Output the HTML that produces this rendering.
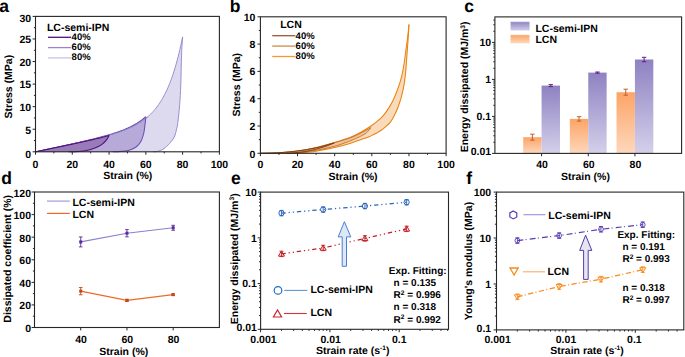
<!DOCTYPE html>
<html><head><meta charset="utf-8"><style>
html,body{margin:0;padding:0;background:#fff;width:685px;height:357px;overflow:hidden}
svg{display:block;font-family:"Liberation Sans", sans-serif;text-rendering:geometricPrecision;font-weight:bold}
</style></head><body>
<svg width="685" height="357" viewBox="0 0 685 357">
<rect width="685" height="357" fill="#fff"/>
<path d="M35.50,151.80 L36.42,151.61 L37.34,151.41 L38.26,151.22 L39.18,151.03 L40.10,150.84 L41.02,150.64 L41.94,150.45 L42.86,150.26 L43.78,150.06 L44.70,149.87 L45.61,149.67 L46.53,149.48 L47.45,149.29 L48.37,149.09 L49.29,148.90 L50.21,148.71 L51.13,148.51 L52.05,148.32 L52.97,148.12 L53.89,147.93 L54.81,147.73 L55.73,147.54 L56.65,147.34 L57.57,147.15 L58.49,146.95 L59.41,146.76 L60.33,146.56 L61.25,146.36 L62.17,146.17 L63.09,145.97 L64.00,145.77 L64.92,145.58 L65.84,145.38 L66.76,145.18 L67.68,144.98 L68.60,144.79 L69.52,144.59 L70.44,144.39 L71.36,144.19 L72.28,143.99 L73.20,143.79 L74.12,143.59 L75.04,143.39 L75.96,143.18 L76.88,142.98 L77.80,142.78 L78.72,142.58 L79.64,142.37 L80.56,142.17 L81.47,141.96 L82.39,141.75 L83.31,141.55 L84.23,141.34 L85.15,141.13 L86.07,140.92 L86.99,140.71 L87.91,140.50 L88.83,140.29 L89.75,140.07 L90.67,139.86 L91.59,139.64 L92.51,139.43 L93.43,139.21 L94.35,138.99 L95.27,138.76 L96.19,138.54 L97.11,138.32 L98.03,138.09 L98.95,137.86 L99.86,137.63 L100.78,137.40 L101.70,137.16 L102.62,136.93 L103.54,136.69 L104.46,136.44 L105.38,136.20 L106.30,135.95 L107.22,135.70 L108.14,135.45 L109.06,135.19 L109.98,134.93 L110.90,134.66 L111.82,134.39 L112.74,134.12 L113.66,133.85 L114.58,133.56 L115.50,133.28 L116.42,132.99 L117.34,132.69 L118.26,132.39 L119.17,132.08 L120.09,131.76 L121.01,131.44 L121.93,131.12 L122.85,130.78 L123.77,130.44 L124.69,130.09 L125.61,129.73 L126.53,129.36 L127.45,128.98 L128.37,128.59 L129.29,128.19 L130.21,127.78 L131.13,127.36 L132.05,126.93 L132.97,126.48 L133.89,126.02 L134.81,125.54 L135.73,125.05 L136.65,124.55 L137.56,124.02 L138.48,123.48 L139.40,122.92 L140.32,122.34 L141.24,121.74 L142.16,121.12 L143.08,120.48 L144.00,119.81 L144.92,119.11 L145.84,118.39 L146.76,117.64 L147.68,116.86 L148.60,116.04 L149.52,115.20 L150.44,114.32 L151.36,113.40 L152.28,112.44 L153.20,111.44 L154.12,110.40 L155.04,109.31 L155.95,108.18 L156.87,106.99 L157.79,105.75 L158.71,104.46 L159.63,103.10 L160.55,101.69 L161.47,100.20 L162.39,98.65 L163.31,97.03 L164.23,95.32 L165.15,93.54 L166.07,91.67 L166.99,89.71 L167.91,87.66 L168.83,85.51 L169.75,83.25 L170.67,80.88 L171.59,78.39 L172.51,75.78 L173.43,73.04 L174.34,70.16 L175.26,67.14 L176.18,63.97 L177.10,60.64 L178.02,57.14 L178.94,53.46 L179.86,49.59 L180.78,45.53 L181.70,41.25 L182.62,36.89 L182.62,36.89 C182.44,39.94 181.82,47.20 181.52,55.21 C181.21,63.23 181.09,76.80 180.78,85.00 C180.47,93.20 180.17,98.17 179.68,104.41 C179.19,110.65 178.36,118.33 177.84,122.46 C177.32,126.60 177.07,126.98 176.55,129.23 C176.03,131.49 175.63,133.91 174.71,136.00 C173.79,138.09 172.63,139.83 171.03,141.78 C169.44,143.73 166.84,146.29 165.15,147.69 C163.46,149.10 162.30,149.58 160.92,150.22 C159.54,150.86 158.16,151.27 156.87,151.53 C155.59,151.79 153.81,151.75 153.20,151.80 Z" fill="#dddaf0" stroke="none"/>
<path d="M35.50,151.80 L36.42,151.61 L37.34,151.41 L38.26,151.22 L39.18,151.03 L40.10,150.84 L41.02,150.64 L41.94,150.45 L42.86,150.26 L43.78,150.06 L44.70,149.87 L45.61,149.67 L46.53,149.48 L47.45,149.29 L48.37,149.09 L49.29,148.90 L50.21,148.71 L51.13,148.51 L52.05,148.32 L52.97,148.12 L53.89,147.93 L54.81,147.73 L55.73,147.54 L56.65,147.34 L57.57,147.15 L58.49,146.95 L59.41,146.76 L60.33,146.56 L61.25,146.36 L62.17,146.17 L63.09,145.97 L64.00,145.77 L64.92,145.58 L65.84,145.38 L66.76,145.18 L67.68,144.98 L68.60,144.79 L69.52,144.59 L70.44,144.39 L71.36,144.19 L72.28,143.99 L73.20,143.79 L74.12,143.59 L75.04,143.39 L75.96,143.18 L76.88,142.98 L77.80,142.78 L78.72,142.58 L79.64,142.37 L80.56,142.17 L81.47,141.96 L82.39,141.75 L83.31,141.55 L84.23,141.34 L85.15,141.13 L86.07,140.92 L86.99,140.71 L87.91,140.50 L88.83,140.29 L89.75,140.07 L90.67,139.86 L91.59,139.64 L92.51,139.43 L93.43,139.21 L94.35,138.99 L95.27,138.76 L96.19,138.54 L97.11,138.32 L98.03,138.09 L98.95,137.86 L99.86,137.63 L100.78,137.40 L101.70,137.16 L102.62,136.93 L103.54,136.69 L104.46,136.44 L105.38,136.20 L106.30,135.95 L107.22,135.70 L108.14,135.45 L109.06,135.19 L109.98,134.93 L110.90,134.66 L111.82,134.39 L112.74,134.12 L113.66,133.85 L114.58,133.56 L115.50,133.28 L116.42,132.99 L117.34,132.69 L118.26,132.39 L119.17,132.08 L120.09,131.76 L121.01,131.44 L121.93,131.12 L122.85,130.78 L123.77,130.44 L124.69,130.09 L125.61,129.73 L126.53,129.36 L127.45,128.98 L128.37,128.59 L129.29,128.19 L130.21,127.78 L131.13,127.36 L132.05,126.93 L132.97,126.48 L133.89,126.02 L134.81,125.54 L135.73,125.05 L136.65,124.55 L137.56,124.02 L138.48,123.48 L139.40,122.92 L140.32,122.34 L141.24,121.74 L142.16,121.12 L143.08,120.48 L144.00,119.81 L144.92,119.11 L145.84,118.39 L146.76,117.64 L147.68,116.86 L148.60,116.04 L149.52,115.20 L150.44,114.32 L151.36,113.40 L152.28,112.44 L153.20,111.44 L154.12,110.40 L155.04,109.31 L155.95,108.18 L156.87,106.99 L157.79,105.75 L158.71,104.46 L159.63,103.10 L160.55,101.69 L161.47,100.20 L162.39,98.65 L163.31,97.03 L164.23,95.32 L165.15,93.54 L166.07,91.67 L166.99,89.71 L167.91,87.66 L168.83,85.51 L169.75,83.25 L170.67,80.88 L171.59,78.39 L172.51,75.78 L173.43,73.04 L174.34,70.16 L175.26,67.14 L176.18,63.97 L177.10,60.64 L178.02,57.14 L178.94,53.46 L179.86,49.59 L180.78,45.53 L181.70,41.25 L182.62,36.89" fill="none" stroke="#8d84cc" stroke-width="0.9" stroke-linejoin="round"/>
<path d="M182.62,36.89 C182.44,39.94 181.82,47.20 181.52,55.21 C181.21,63.23 181.09,76.80 180.78,85.00 C180.47,93.20 180.17,98.17 179.68,104.41 C179.19,110.65 178.36,118.33 177.84,122.46 C177.32,126.60 177.07,126.98 176.55,129.23 C176.03,131.49 175.63,133.91 174.71,136.00 C173.79,138.09 172.63,139.83 171.03,141.78 C169.44,143.73 166.84,146.29 165.15,147.69 C163.46,149.10 162.30,149.58 160.92,150.22 C159.54,150.86 158.16,151.27 156.87,151.53 C155.59,151.79 153.81,151.75 153.20,151.80" fill="none" stroke="#8d84cc" stroke-width="0.9" stroke-linejoin="round"/>
<path d="M35.50,151.80 L36.42,151.60 L37.34,151.41 L38.26,151.21 L39.18,151.01 L40.10,150.82 L41.02,150.62 L41.94,150.42 L42.86,150.22 L43.78,150.03 L44.70,149.83 L45.61,149.63 L46.53,149.43 L47.45,149.24 L48.37,149.04 L49.29,148.84 L50.21,148.64 L51.13,148.45 L52.05,148.25 L52.97,148.05 L53.89,147.85 L54.81,147.65 L55.73,147.45 L56.65,147.25 L57.57,147.05 L58.49,146.85 L59.41,146.66 L60.33,146.46 L61.25,146.26 L62.17,146.05 L63.09,145.85 L64.00,145.65 L64.92,145.45 L65.84,145.25 L66.76,145.05 L67.68,144.85 L68.60,144.64 L69.52,144.44 L70.44,144.24 L71.36,144.03 L72.28,143.83 L73.20,143.63 L74.12,143.42 L75.04,143.22 L75.96,143.01 L76.88,142.80 L77.80,142.60 L78.72,142.39 L79.64,142.18 L80.56,141.97 L81.47,141.76 L82.39,141.55 L83.31,141.34 L84.23,141.12 L85.15,140.91 L86.07,140.70 L86.99,140.48 L87.91,140.26 L88.83,140.04 L89.75,139.83 L90.67,139.60 L91.59,139.38 L92.51,139.16 L93.43,138.93 L94.35,138.71 L95.27,138.48 L96.19,138.25 L97.11,138.02 L98.03,137.78 L98.95,137.55 L99.86,137.31 L100.78,137.07 L101.70,136.82 L102.62,136.58 L103.54,136.33 L104.46,136.08 L105.38,135.82 L106.30,135.56 L107.22,135.30 L108.14,135.04 L109.06,134.77 L109.98,134.50 L110.90,134.22 L111.82,133.94 L112.74,133.65 L113.66,133.36 L114.58,133.06 L115.50,132.76 L116.42,132.46 L117.34,132.14 L118.26,131.82 L119.17,131.50 L120.09,131.16 L121.01,130.82 L121.93,130.47 L122.85,130.12 L123.77,129.75 L124.69,129.37 L125.61,128.99 L126.53,128.60 L127.45,128.19 L128.37,127.77 L129.29,127.35 L130.21,126.90 L131.13,126.45 L132.05,125.98 L132.97,125.50 L133.89,125.00 L134.81,124.49 L135.73,123.96 L136.65,123.41 L137.56,122.85 L138.48,122.26 L139.40,121.65 L140.32,121.02 L141.24,120.37 L142.16,119.70 L143.08,119.00 L144.00,118.27 L144.92,117.51 L145.84,116.73 L145.84,116.73 C145.72,117.91 145.47,120.98 145.10,123.82 C144.74,126.65 144.34,130.81 143.63,133.75 C142.93,136.68 142.19,139.16 140.87,141.42 C139.56,143.68 137.81,145.78 135.73,147.29 C133.64,148.79 131.28,149.72 128.37,150.45 C125.46,151.18 120.86,151.44 118.26,151.66 C115.65,151.89 113.66,151.78 112.74,151.80 Z" fill="#b8aad8" stroke="none"/>
<path d="M35.50,151.80 L36.42,151.60 L37.34,151.41 L38.26,151.21 L39.18,151.01 L40.10,150.82 L41.02,150.62 L41.94,150.42 L42.86,150.22 L43.78,150.03 L44.70,149.83 L45.61,149.63 L46.53,149.43 L47.45,149.24 L48.37,149.04 L49.29,148.84 L50.21,148.64 L51.13,148.45 L52.05,148.25 L52.97,148.05 L53.89,147.85 L54.81,147.65 L55.73,147.45 L56.65,147.25 L57.57,147.05 L58.49,146.85 L59.41,146.66 L60.33,146.46 L61.25,146.26 L62.17,146.05 L63.09,145.85 L64.00,145.65 L64.92,145.45 L65.84,145.25 L66.76,145.05 L67.68,144.85 L68.60,144.64 L69.52,144.44 L70.44,144.24 L71.36,144.03 L72.28,143.83 L73.20,143.63 L74.12,143.42 L75.04,143.22 L75.96,143.01 L76.88,142.80 L77.80,142.60 L78.72,142.39 L79.64,142.18 L80.56,141.97 L81.47,141.76 L82.39,141.55 L83.31,141.34 L84.23,141.12 L85.15,140.91 L86.07,140.70 L86.99,140.48 L87.91,140.26 L88.83,140.04 L89.75,139.83 L90.67,139.60 L91.59,139.38 L92.51,139.16 L93.43,138.93 L94.35,138.71 L95.27,138.48 L96.19,138.25 L97.11,138.02 L98.03,137.78 L98.95,137.55 L99.86,137.31 L100.78,137.07 L101.70,136.82 L102.62,136.58 L103.54,136.33 L104.46,136.08 L105.38,135.82 L106.30,135.56 L107.22,135.30 L108.14,135.04 L109.06,134.77 L109.98,134.50 L110.90,134.22 L111.82,133.94 L112.74,133.65 L113.66,133.36 L114.58,133.06 L115.50,132.76 L116.42,132.46 L117.34,132.14 L118.26,131.82 L119.17,131.50 L120.09,131.16 L121.01,130.82 L121.93,130.47 L122.85,130.12 L123.77,129.75 L124.69,129.37 L125.61,128.99 L126.53,128.60 L127.45,128.19 L128.37,127.77 L129.29,127.35 L130.21,126.90 L131.13,126.45 L132.05,125.98 L132.97,125.50 L133.89,125.00 L134.81,124.49 L135.73,123.96 L136.65,123.41 L137.56,122.85 L138.48,122.26 L139.40,121.65 L140.32,121.02 L141.24,120.37 L142.16,119.70 L143.08,119.00 L144.00,118.27 L144.92,117.51 L145.84,116.73" fill="none" stroke="#6c4cae" stroke-width="1.05" stroke-linejoin="round"/>
<path d="M145.84,116.73 C145.72,117.91 145.47,120.98 145.10,123.82 C144.74,126.65 144.34,130.81 143.63,133.75 C142.93,136.68 142.19,139.16 140.87,141.42 C139.56,143.68 137.81,145.78 135.73,147.29 C133.64,148.79 131.28,149.72 128.37,150.45 C125.46,151.18 120.86,151.44 118.26,151.66 C115.65,151.89 113.66,151.78 112.74,151.80" fill="none" stroke="#6c4cae" stroke-width="1.05" stroke-linejoin="round"/>
<path d="M72.28,143.99 L73.20,143.79 L74.12,143.59 L75.04,143.39 L75.96,143.18 L76.88,142.98 L77.80,142.78 L78.72,142.58 L79.64,142.37 L80.56,142.17 L81.47,141.96 L82.39,141.75 L83.31,141.55 L84.23,141.34 L85.15,141.13 L86.07,140.92 L86.99,140.71 L87.91,140.50 L88.83,140.29 L89.75,140.07 L90.67,139.86 L91.59,139.64 L92.51,139.43 L93.43,139.21 L94.35,138.99 L95.27,138.76 L96.19,138.54 L97.11,138.32 L98.03,138.09 L98.95,137.86 L99.86,137.63 L100.78,137.40 L101.70,137.16 L102.62,136.93 L103.54,136.69 L104.46,136.44 L105.38,136.20 L106.30,135.95 L107.22,135.70 L108.14,135.45 L109.06,135.19 L109.98,134.93 L110.90,134.66 L111.82,134.39 L112.74,134.12 L113.66,133.85 L114.58,133.56 L115.50,133.28 L116.42,132.99 L117.34,132.69 L118.26,132.39 L119.17,132.08 L120.09,131.76 L121.01,131.44 L121.93,131.12 L122.85,130.78 L123.77,130.44 L124.69,130.09 L125.61,129.73 L126.53,129.36 L127.45,128.98 L128.37,128.59 L129.29,128.19 L130.21,127.78 L131.13,127.36 L132.05,126.93 L132.97,126.48 L133.89,126.02 L134.81,125.54 L135.73,125.05 L136.65,124.55 L137.56,124.02 L138.48,123.48 L139.40,122.92 L140.32,122.34 L141.24,121.74 L142.16,121.12 L143.08,120.48 L144.00,119.81 L144.92,119.11 L145.84,118.39 L146.76,117.64 L147.68,116.86" fill="none" stroke="#8a80c8" stroke-width="0.8"/>
<path d="M35.50,151.80 L36.42,151.61 L37.34,151.42 L38.26,151.23 L39.18,151.04 L40.10,150.85 L41.02,150.67 L41.94,150.48 L42.86,150.29 L43.78,150.10 L44.70,149.91 L45.61,149.72 L46.53,149.53 L47.45,149.34 L48.37,149.15 L49.29,148.96 L50.21,148.77 L51.13,148.58 L52.05,148.39 L52.97,148.20 L53.89,148.00 L54.81,147.81 L55.73,147.62 L56.65,147.43 L57.57,147.24 L58.49,147.05 L59.41,146.86 L60.33,146.66 L61.25,146.47 L62.17,146.28 L63.09,146.09 L64.00,145.89 L64.92,145.70 L65.84,145.51 L66.76,145.31 L67.68,145.12 L68.60,144.93 L69.52,144.73 L70.44,144.54 L71.36,144.34 L72.28,144.14 L73.20,143.95 L74.12,143.75 L75.04,143.55 L75.96,143.36 L76.88,143.16 L77.80,142.96 L78.72,142.76 L79.64,142.56 L80.56,142.36 L81.47,142.16 L82.39,141.96 L83.31,141.75 L84.23,141.55 L85.15,141.34 L86.07,141.14 L86.99,140.93 L87.91,140.73 L88.83,140.52 L89.75,140.31 L90.67,140.10 L91.59,139.89 L92.51,139.67 L93.43,139.46 L94.35,139.24 L95.27,139.03 L96.19,138.81 L97.11,138.59 L98.03,138.36 L98.95,138.14 L99.86,137.91 L100.78,137.69 L101.70,137.46 L102.62,137.22 L103.54,136.99 L104.46,136.75 L105.38,136.51 L106.30,136.27 L107.22,136.02 L108.14,135.77 L109.06,135.52 L109.06,135.52 C108.60,136.28 107.53,138.56 106.30,140.07 C105.08,141.57 103.70,143.22 101.70,144.58 C99.71,145.93 97.11,147.17 94.35,148.19 C91.59,149.20 88.52,150.08 85.15,150.67 C81.78,151.26 76.88,151.52 74.12,151.71 C71.36,151.90 69.52,151.78 68.60,151.80 Z" fill="#9a7bb9" stroke="none"/>
<path d="M35.50,151.80 L36.42,151.61 L37.34,151.42 L38.26,151.23 L39.18,151.04 L40.10,150.85 L41.02,150.67 L41.94,150.48 L42.86,150.29 L43.78,150.10 L44.70,149.91 L45.61,149.72 L46.53,149.53 L47.45,149.34 L48.37,149.15 L49.29,148.96 L50.21,148.77 L51.13,148.58 L52.05,148.39 L52.97,148.20 L53.89,148.00 L54.81,147.81 L55.73,147.62 L56.65,147.43 L57.57,147.24 L58.49,147.05 L59.41,146.86 L60.33,146.66 L61.25,146.47 L62.17,146.28 L63.09,146.09 L64.00,145.89 L64.92,145.70 L65.84,145.51 L66.76,145.31 L67.68,145.12 L68.60,144.93 L69.52,144.73 L70.44,144.54 L71.36,144.34 L72.28,144.14 L73.20,143.95 L74.12,143.75 L75.04,143.55 L75.96,143.36 L76.88,143.16 L77.80,142.96 L78.72,142.76 L79.64,142.56 L80.56,142.36 L81.47,142.16 L82.39,141.96 L83.31,141.75 L84.23,141.55 L85.15,141.34 L86.07,141.14 L86.99,140.93 L87.91,140.73 L88.83,140.52 L89.75,140.31 L90.67,140.10 L91.59,139.89 L92.51,139.67 L93.43,139.46 L94.35,139.24 L95.27,139.03 L96.19,138.81 L97.11,138.59 L98.03,138.36 L98.95,138.14 L99.86,137.91 L100.78,137.69 L101.70,137.46 L102.62,137.22 L103.54,136.99 L104.46,136.75 L105.38,136.51 L106.30,136.27 L107.22,136.02 L108.14,135.77 L109.06,135.52" fill="none" stroke="#520f80" stroke-width="1.1" stroke-linejoin="round"/>
<path d="M109.06,135.52 C108.60,136.28 107.53,138.56 106.30,140.07 C105.08,141.57 103.70,143.22 101.70,144.58 C99.71,145.93 97.11,147.17 94.35,148.19 C91.59,149.20 88.52,150.08 85.15,150.67 C81.78,151.26 76.88,151.52 74.12,151.71 C71.36,151.90 69.52,151.78 68.60,151.80" fill="none" stroke="#520f80" stroke-width="1.1" stroke-linejoin="round"/>
<rect x="35.50" y="16.40" width="183.90" height="135.40" fill="none" stroke="#262626" stroke-width="1.1"/>
<line x1="35.50" y1="151.80" x2="35.50" y2="154.70" stroke="#262626" stroke-width="1" />
<line x1="72.28" y1="151.80" x2="72.28" y2="154.70" stroke="#262626" stroke-width="1" />
<line x1="109.06" y1="151.80" x2="109.06" y2="154.70" stroke="#262626" stroke-width="1" />
<line x1="145.84" y1="151.80" x2="145.84" y2="154.70" stroke="#262626" stroke-width="1" />
<line x1="182.62" y1="151.80" x2="182.62" y2="154.70" stroke="#262626" stroke-width="1" />
<line x1="219.40" y1="151.80" x2="219.40" y2="154.70" stroke="#262626" stroke-width="1" />
<line x1="53.89" y1="151.80" x2="53.89" y2="153.40" stroke="#262626" stroke-width="1" />
<line x1="90.67" y1="151.80" x2="90.67" y2="153.40" stroke="#262626" stroke-width="1" />
<line x1="127.45" y1="151.80" x2="127.45" y2="153.40" stroke="#262626" stroke-width="1" />
<line x1="164.23" y1="151.80" x2="164.23" y2="153.40" stroke="#262626" stroke-width="1" />
<line x1="201.01" y1="151.80" x2="201.01" y2="153.40" stroke="#262626" stroke-width="1" />
<text x="35.50" y="167.60" font-size="10.5" text-anchor="middle" fill="#000" >0</text>
<text x="72.28" y="167.60" font-size="10.5" text-anchor="middle" fill="#000" >20</text>
<text x="109.06" y="167.60" font-size="10.5" text-anchor="middle" fill="#000" >40</text>
<text x="145.84" y="167.60" font-size="10.5" text-anchor="middle" fill="#000" >60</text>
<text x="182.62" y="167.60" font-size="10.5" text-anchor="middle" fill="#000" >80</text>
<text x="219.40" y="167.60" font-size="10.5" text-anchor="middle" fill="#000" >100</text>
<line x1="32.60" y1="151.80" x2="35.50" y2="151.80" stroke="#262626" stroke-width="1" />
<line x1="32.60" y1="129.23" x2="35.50" y2="129.23" stroke="#262626" stroke-width="1" />
<line x1="32.60" y1="106.67" x2="35.50" y2="106.67" stroke="#262626" stroke-width="1" />
<line x1="32.60" y1="84.10" x2="35.50" y2="84.10" stroke="#262626" stroke-width="1" />
<line x1="32.60" y1="61.53" x2="35.50" y2="61.53" stroke="#262626" stroke-width="1" />
<line x1="32.60" y1="38.97" x2="35.50" y2="38.97" stroke="#262626" stroke-width="1" />
<line x1="32.60" y1="16.40" x2="35.50" y2="16.40" stroke="#262626" stroke-width="1" />
<line x1="33.90" y1="140.52" x2="35.50" y2="140.52" stroke="#262626" stroke-width="1" />
<line x1="33.90" y1="117.95" x2="35.50" y2="117.95" stroke="#262626" stroke-width="1" />
<line x1="33.90" y1="95.38" x2="35.50" y2="95.38" stroke="#262626" stroke-width="1" />
<line x1="33.90" y1="72.82" x2="35.50" y2="72.82" stroke="#262626" stroke-width="1" />
<line x1="33.90" y1="50.25" x2="35.50" y2="50.25" stroke="#262626" stroke-width="1" />
<line x1="33.90" y1="27.68" x2="35.50" y2="27.68" stroke="#262626" stroke-width="1" />
<text x="31.20" y="158.00" font-size="10.5" text-anchor="end" fill="#000" >0</text>
<text x="31.20" y="133.53" font-size="10.5" text-anchor="end" fill="#000" >5</text>
<text x="31.20" y="110.97" font-size="10.5" text-anchor="end" fill="#000" >10</text>
<text x="31.20" y="88.40" font-size="10.5" text-anchor="end" fill="#000" >15</text>
<text x="31.20" y="65.83" font-size="10.5" text-anchor="end" fill="#000" >20</text>
<text x="31.20" y="43.27" font-size="10.5" text-anchor="end" fill="#000" >25</text>
<text x="31.20" y="21.70" font-size="10.5" text-anchor="end" fill="#000" >30</text>
<text x="-0.80" y="11.80" font-size="17.5" text-anchor="start" fill="#000" >a</text>
<text transform="translate(11.80,86.60) rotate(-90)" font-size="10.5" text-anchor="middle">Stress (MPa)</text>
<text x="127.80" y="179.40" font-size="10.5" text-anchor="middle" fill="#000" >Strain (%)</text>
<text x="46.90" y="30.50" font-size="10.5" text-anchor="start" fill="#000" >LC-semi-IPN</text>
<line x1="48.00" y1="37.30" x2="71.00" y2="37.30" stroke="#520f80" stroke-width="1.3" />
<text x="71.60" y="39.70" font-size="9.5" text-anchor="start" fill="#000" >40%</text>
<line x1="48.00" y1="47.60" x2="71.00" y2="47.60" stroke="#9c84cc" stroke-width="1.3" />
<text x="71.60" y="50.00" font-size="9.5" text-anchor="start" fill="#000" >60%</text>
<line x1="48.00" y1="57.90" x2="71.00" y2="57.90" stroke="#c9c3e6" stroke-width="1.3" />
<text x="71.60" y="60.30" font-size="9.5" text-anchor="start" fill="#000" >80%</text>
<path d="M260.40,153.30 C263.50,153.21 272.78,153.14 278.97,152.75 C285.16,152.37 291.35,151.84 297.54,150.98 C303.73,150.12 309.92,149.00 316.11,147.57 C322.30,146.13 329.05,144.06 334.68,142.38 C340.31,140.70 345.70,139.06 349.91,137.47 C354.12,135.87 356.44,134.74 359.94,132.83 C363.43,130.91 368.08,127.87 370.89,126.00 C373.71,124.13 374.73,123.41 376.83,121.63 C378.94,119.86 381.41,117.81 383.52,115.35 C385.62,112.90 387.73,109.71 389.46,106.89 C391.19,104.07 392.46,101.61 393.92,98.43 C395.37,95.24 396.89,91.51 398.19,87.78 C399.49,84.05 400.73,80.14 401.72,76.04 C402.71,71.95 403.42,67.62 404.13,63.21 C404.84,58.80 405.40,53.88 405.99,49.56 C406.58,45.24 407.16,41.46 407.66,37.28 C408.16,33.09 408.74,26.58 408.96,24.44 L408.96,24.44 C408.84,26.58 408.46,33.34 408.22,37.28 C407.97,41.21 407.78,43.74 407.47,48.06 C407.16,52.38 406.73,58.55 406.36,63.21 C405.99,67.87 405.74,71.83 405.25,76.04 C404.75,80.25 404.10,84.73 403.39,88.46 C402.68,92.19 401.93,95.13 400.97,98.43 C400.02,101.73 398.81,105.30 397.63,108.26 C396.46,111.21 395.19,113.78 393.92,116.17 C392.65,118.56 391.47,120.77 390.02,122.59 C388.56,124.41 386.71,125.77 385.19,127.09 C383.67,128.41 382.31,129.53 380.92,130.50 C379.53,131.48 378.23,132.19 376.83,132.96 C375.44,133.74 373.96,134.49 372.56,135.15 C371.17,135.81 369.87,136.37 368.48,136.92 C367.08,137.47 365.63,137.92 364.21,138.42 C362.78,138.92 362.32,139.08 359.94,139.92 C357.55,140.76 354.12,142.20 349.91,143.47 C345.70,144.75 340.31,146.27 334.68,147.57 C329.05,148.86 322.30,150.37 316.11,151.25 C309.92,152.14 302.49,152.55 297.54,152.89 C292.59,153.23 288.25,153.23 286.40,153.30 Z" fill="#f9dbbb" stroke="none"/>
<path d="M260.40,153.30 C263.50,153.21 272.78,153.14 278.97,152.75 C285.16,152.37 291.35,151.84 297.54,150.98 C303.73,150.12 309.92,149.00 316.11,147.57 C322.30,146.13 329.05,144.06 334.68,142.38 C340.31,140.70 345.70,139.06 349.91,137.47 C354.12,135.87 356.44,134.74 359.94,132.83 C363.43,130.91 368.08,127.87 370.89,126.00 C373.71,124.13 374.73,123.41 376.83,121.63 C378.94,119.86 381.41,117.81 383.52,115.35 C385.62,112.90 387.73,109.71 389.46,106.89 C391.19,104.07 392.46,101.61 393.92,98.43 C395.37,95.24 396.89,91.51 398.19,87.78 C399.49,84.05 400.73,80.14 401.72,76.04 C402.71,71.95 403.42,67.62 404.13,63.21 C404.84,58.80 405.40,53.88 405.99,49.56 C406.58,45.24 407.16,41.46 407.66,37.28 C408.16,33.09 408.74,26.58 408.96,24.44" fill="none" stroke="#e98210" stroke-width="1.05" stroke-linejoin="round"/>
<path d="M408.96,24.44 C408.84,26.58 408.46,33.34 408.22,37.28 C407.97,41.21 407.78,43.74 407.47,48.06 C407.16,52.38 406.73,58.55 406.36,63.21 C405.99,67.87 405.74,71.83 405.25,76.04 C404.75,80.25 404.10,84.73 403.39,88.46 C402.68,92.19 401.93,95.13 400.97,98.43 C400.02,101.73 398.81,105.30 397.63,108.26 C396.46,111.21 395.19,113.78 393.92,116.17 C392.65,118.56 391.47,120.77 390.02,122.59 C388.56,124.41 386.71,125.77 385.19,127.09 C383.67,128.41 382.31,129.53 380.92,130.50 C379.53,131.48 378.23,132.19 376.83,132.96 C375.44,133.74 373.96,134.49 372.56,135.15 C371.17,135.81 369.87,136.37 368.48,136.92 C367.08,137.47 365.63,137.92 364.21,138.42 C362.78,138.92 362.32,139.08 359.94,139.92 C357.55,140.76 354.12,142.20 349.91,143.47 C345.70,144.75 340.31,146.27 334.68,147.57 C329.05,148.86 322.30,150.37 316.11,151.25 C309.92,152.14 302.49,152.55 297.54,152.89 C292.59,153.23 288.25,153.23 286.40,153.30" fill="none" stroke="#e98210" stroke-width="1.05" stroke-linejoin="round"/>
<path d="M260.40,153.30 C263.50,153.21 272.78,153.12 278.97,152.75 C285.16,152.39 291.35,151.94 297.54,151.12 C303.73,150.30 309.92,149.25 316.11,147.84 C322.30,146.43 329.05,144.29 334.68,142.65 C340.31,141.02 345.70,139.54 349.91,138.01 C354.12,136.49 356.44,135.24 359.94,133.51 C363.43,131.78 369.07,128.62 370.89,127.64 L370.89,127.64 C370.27,128.39 368.57,130.87 367.18,132.14 C365.78,133.42 364.86,134.03 362.54,135.28 C360.21,136.53 356.35,138.33 353.25,139.65 C350.15,140.97 347.06,142.11 343.97,143.20 C340.87,144.29 339.32,145.02 334.68,146.20 C330.04,147.38 322.30,149.23 316.11,150.30 C309.92,151.37 302.18,152.12 297.54,152.62 C292.90,153.12 289.80,153.19 288.25,153.30 Z" fill="#f0c298" stroke="none"/>
<path d="M260.40,153.30 C263.50,153.21 272.78,153.12 278.97,152.75 C285.16,152.39 291.35,151.94 297.54,151.12 C303.73,150.30 309.92,149.25 316.11,147.84 C322.30,146.43 329.05,144.29 334.68,142.65 C340.31,141.02 345.70,139.54 349.91,138.01 C354.12,136.49 356.44,135.24 359.94,133.51 C363.43,131.78 369.07,128.62 370.89,127.64" fill="none" stroke="#c26a1c" stroke-width="0.85" stroke-linejoin="round"/>
<path d="M370.89,127.64 C370.27,128.39 368.57,130.87 367.18,132.14 C365.78,133.42 364.86,134.03 362.54,135.28 C360.21,136.53 356.35,138.33 353.25,139.65 C350.15,140.97 347.06,142.11 343.97,143.20 C340.87,144.29 339.32,145.02 334.68,146.20 C330.04,147.38 322.30,149.23 316.11,150.30 C309.92,151.37 302.18,152.12 297.54,152.62 C292.90,153.12 289.80,153.19 288.25,153.30" fill="none" stroke="#c26a1c" stroke-width="0.85" stroke-linejoin="round"/>
<path d="M260.40,153.30 C263.50,153.21 272.78,153.14 278.97,152.75 C285.16,152.37 291.35,151.80 297.54,150.98 C303.73,150.16 309.98,149.18 316.11,147.84 C322.24,146.50 331.28,143.75 334.31,142.93 L334.31,142.93 C333.13,143.40 329.67,144.93 327.25,145.79 C324.84,146.66 322.61,147.32 319.82,148.11 C317.04,148.91 314.25,149.84 310.54,150.57 C306.82,151.30 301.56,152.03 297.54,152.48 C293.52,152.94 288.25,153.16 286.40,153.30 Z" fill="#d49a66" stroke="none"/>
<path d="M260.40,153.30 C263.50,153.21 272.78,153.14 278.97,152.75 C285.16,152.37 291.35,151.80 297.54,150.98 C303.73,150.16 309.98,149.18 316.11,147.84 C322.24,146.50 331.28,143.75 334.31,142.93" fill="none" stroke="#7e3c12" stroke-width="0.95" stroke-linejoin="round"/>
<path d="M334.31,142.93 C333.13,143.40 329.67,144.93 327.25,145.79 C324.84,146.66 322.61,147.32 319.82,148.11 C317.04,148.91 314.25,149.84 310.54,150.57 C306.82,151.30 301.56,152.03 297.54,152.48 C293.52,152.94 288.25,153.16 286.40,153.30" fill="none" stroke="#7e3c12" stroke-width="0.95" stroke-linejoin="round"/>
<rect x="260.40" y="16.80" width="185.70" height="136.50" fill="none" stroke="#262626" stroke-width="1.1"/>
<line x1="260.40" y1="153.30" x2="260.40" y2="156.20" stroke="#262626" stroke-width="1" />
<line x1="297.54" y1="153.30" x2="297.54" y2="156.20" stroke="#262626" stroke-width="1" />
<line x1="334.68" y1="153.30" x2="334.68" y2="156.20" stroke="#262626" stroke-width="1" />
<line x1="371.82" y1="153.30" x2="371.82" y2="156.20" stroke="#262626" stroke-width="1" />
<line x1="408.96" y1="153.30" x2="408.96" y2="156.20" stroke="#262626" stroke-width="1" />
<line x1="446.10" y1="153.30" x2="446.10" y2="156.20" stroke="#262626" stroke-width="1" />
<line x1="278.97" y1="153.30" x2="278.97" y2="154.90" stroke="#262626" stroke-width="1" />
<line x1="316.11" y1="153.30" x2="316.11" y2="154.90" stroke="#262626" stroke-width="1" />
<line x1="353.25" y1="153.30" x2="353.25" y2="154.90" stroke="#262626" stroke-width="1" />
<line x1="390.39" y1="153.30" x2="390.39" y2="154.90" stroke="#262626" stroke-width="1" />
<line x1="427.53" y1="153.30" x2="427.53" y2="154.90" stroke="#262626" stroke-width="1" />
<text x="260.40" y="167.60" font-size="10.5" text-anchor="middle" fill="#000" >0</text>
<text x="297.54" y="167.60" font-size="10.5" text-anchor="middle" fill="#000" >20</text>
<text x="334.68" y="167.60" font-size="10.5" text-anchor="middle" fill="#000" >40</text>
<text x="371.82" y="167.60" font-size="10.5" text-anchor="middle" fill="#000" >60</text>
<text x="408.96" y="167.60" font-size="10.5" text-anchor="middle" fill="#000" >80</text>
<text x="446.10" y="167.60" font-size="10.5" text-anchor="middle" fill="#000" >100</text>
<line x1="257.50" y1="153.30" x2="260.40" y2="153.30" stroke="#262626" stroke-width="1" />
<line x1="257.50" y1="126.00" x2="260.40" y2="126.00" stroke="#262626" stroke-width="1" />
<line x1="257.50" y1="98.70" x2="260.40" y2="98.70" stroke="#262626" stroke-width="1" />
<line x1="257.50" y1="71.40" x2="260.40" y2="71.40" stroke="#262626" stroke-width="1" />
<line x1="257.50" y1="44.10" x2="260.40" y2="44.10" stroke="#262626" stroke-width="1" />
<line x1="257.50" y1="16.80" x2="260.40" y2="16.80" stroke="#262626" stroke-width="1" />
<line x1="258.80" y1="139.65" x2="260.40" y2="139.65" stroke="#262626" stroke-width="1" />
<line x1="258.80" y1="112.35" x2="260.40" y2="112.35" stroke="#262626" stroke-width="1" />
<line x1="258.80" y1="85.05" x2="260.40" y2="85.05" stroke="#262626" stroke-width="1" />
<line x1="258.80" y1="57.75" x2="260.40" y2="57.75" stroke="#262626" stroke-width="1" />
<line x1="258.80" y1="30.45" x2="260.40" y2="30.45" stroke="#262626" stroke-width="1" />
<text x="255.40" y="157.60" font-size="10.5" text-anchor="end" fill="#000" >0</text>
<text x="255.40" y="129.90" font-size="10.5" text-anchor="end" fill="#000" >2</text>
<text x="255.40" y="102.60" font-size="10.5" text-anchor="end" fill="#000" >4</text>
<text x="255.40" y="75.30" font-size="10.5" text-anchor="end" fill="#000" >6</text>
<text x="255.40" y="48.00" font-size="10.5" text-anchor="end" fill="#000" >8</text>
<text x="255.40" y="21.10" font-size="10.5" text-anchor="end" fill="#000" >10</text>
<text x="229.70" y="11.80" font-size="17.5" text-anchor="start" fill="#000" >b</text>
<text transform="translate(240.10,84.80) rotate(-90)" font-size="10.5" text-anchor="middle">Stress (MPa)</text>
<text x="353.00" y="180.00" font-size="10.5" text-anchor="middle" fill="#000" >Strain (%)</text>
<text x="280.20" y="28.10" font-size="10.5" text-anchor="start" fill="#000" >LCN</text>
<line x1="272.20" y1="35.70" x2="295.30" y2="35.70" stroke="#9a5a34" stroke-width="1.3" />
<text x="295.60" y="38.60" font-size="9.5" text-anchor="start" fill="#000" >40%</text>
<line x1="272.20" y1="46.10" x2="295.30" y2="46.10" stroke="#d08a4c" stroke-width="1.3" />
<text x="295.60" y="49.00" font-size="9.5" text-anchor="start" fill="#000" >60%</text>
<line x1="272.20" y1="56.50" x2="295.30" y2="56.50" stroke="#f39a2e" stroke-width="1.3" />
<text x="295.60" y="59.40" font-size="9.5" text-anchor="start" fill="#000" >80%</text>
<defs><linearGradient id="gp" x1="0" y1="0" x2="0" y2="1"><stop offset="0" stop-color="#8e82c2"/><stop offset="1" stop-color="#d4d0ea"/></linearGradient><linearGradient id="go" x1="0" y1="0" x2="0" y2="1"><stop offset="0" stop-color="#fca466"/><stop offset="1" stop-color="#fdd8bc"/></linearGradient></defs>
<rect x="523.18" y="137.20" width="18.4" height="16.20" fill="url(#go)"/>
<rect x="541.58" y="85.60" width="18.4" height="67.80" fill="url(#gp)"/>
<line x1="532.38" y1="134.20" x2="532.38" y2="140.20" stroke="#c2602a" stroke-width="1.0" />
<line x1="530.17" y1="134.20" x2="534.58" y2="134.20" stroke="#c2602a" stroke-width="1.0" />
<line x1="530.17" y1="140.20" x2="534.58" y2="140.20" stroke="#c2602a" stroke-width="1.0" />
<line x1="550.78" y1="84.60" x2="550.78" y2="86.60" stroke="#6a1b8a" stroke-width="1.0" />
<line x1="548.58" y1="84.60" x2="552.98" y2="84.60" stroke="#6a1b8a" stroke-width="1.0" />
<line x1="548.58" y1="86.60" x2="552.98" y2="86.60" stroke="#6a1b8a" stroke-width="1.0" />
<rect x="569.85" y="118.90" width="18.4" height="34.50" fill="url(#go)"/>
<rect x="588.25" y="72.60" width="18.4" height="80.80" fill="url(#gp)"/>
<line x1="579.05" y1="116.70" x2="579.05" y2="121.10" stroke="#c2602a" stroke-width="1.0" />
<line x1="576.85" y1="116.70" x2="581.25" y2="116.70" stroke="#c2602a" stroke-width="1.0" />
<line x1="576.85" y1="121.10" x2="581.25" y2="121.10" stroke="#c2602a" stroke-width="1.0" />
<line x1="597.45" y1="72.00" x2="597.45" y2="73.20" stroke="#6a1b8a" stroke-width="1.0" />
<line x1="595.25" y1="72.00" x2="599.65" y2="72.00" stroke="#6a1b8a" stroke-width="1.0" />
<line x1="595.25" y1="73.20" x2="599.65" y2="73.20" stroke="#6a1b8a" stroke-width="1.0" />
<rect x="616.52" y="92.20" width="18.4" height="61.20" fill="url(#go)"/>
<rect x="634.92" y="59.50" width="18.4" height="93.90" fill="url(#gp)"/>
<line x1="625.72" y1="89.20" x2="625.72" y2="95.20" stroke="#c2602a" stroke-width="1.0" />
<line x1="623.52" y1="89.20" x2="627.92" y2="89.20" stroke="#c2602a" stroke-width="1.0" />
<line x1="623.52" y1="95.20" x2="627.92" y2="95.20" stroke="#c2602a" stroke-width="1.0" />
<line x1="644.12" y1="57.30" x2="644.12" y2="61.70" stroke="#6a1b8a" stroke-width="1.0" />
<line x1="641.92" y1="57.30" x2="646.33" y2="57.30" stroke="#6a1b8a" stroke-width="1.0" />
<line x1="641.92" y1="61.70" x2="646.33" y2="61.70" stroke="#6a1b8a" stroke-width="1.0" />
<rect x="494.90" y="16.90" width="186.70" height="136.50" fill="none" stroke="#262626" stroke-width="1.1"/>
<line x1="492.00" y1="153.40" x2="494.90" y2="153.40" stroke="#262626" stroke-width="1" />
<line x1="493.30" y1="142.26" x2="494.90" y2="142.26" stroke="#262626" stroke-width="1" />
<line x1="493.30" y1="135.75" x2="494.90" y2="135.75" stroke="#262626" stroke-width="1" />
<line x1="493.30" y1="131.12" x2="494.90" y2="131.12" stroke="#262626" stroke-width="1" />
<line x1="493.30" y1="127.54" x2="494.90" y2="127.54" stroke="#262626" stroke-width="1" />
<line x1="493.30" y1="124.61" x2="494.90" y2="124.61" stroke="#262626" stroke-width="1" />
<line x1="493.30" y1="122.13" x2="494.90" y2="122.13" stroke="#262626" stroke-width="1" />
<line x1="493.30" y1="119.99" x2="494.90" y2="119.99" stroke="#262626" stroke-width="1" />
<line x1="493.30" y1="118.09" x2="494.90" y2="118.09" stroke="#262626" stroke-width="1" />
<line x1="492.00" y1="116.40" x2="494.90" y2="116.40" stroke="#262626" stroke-width="1" />
<line x1="493.30" y1="105.26" x2="494.90" y2="105.26" stroke="#262626" stroke-width="1" />
<line x1="493.30" y1="98.75" x2="494.90" y2="98.75" stroke="#262626" stroke-width="1" />
<line x1="493.30" y1="94.12" x2="494.90" y2="94.12" stroke="#262626" stroke-width="1" />
<line x1="493.30" y1="90.54" x2="494.90" y2="90.54" stroke="#262626" stroke-width="1" />
<line x1="493.30" y1="87.61" x2="494.90" y2="87.61" stroke="#262626" stroke-width="1" />
<line x1="493.30" y1="85.13" x2="494.90" y2="85.13" stroke="#262626" stroke-width="1" />
<line x1="493.30" y1="82.99" x2="494.90" y2="82.99" stroke="#262626" stroke-width="1" />
<line x1="493.30" y1="81.09" x2="494.90" y2="81.09" stroke="#262626" stroke-width="1" />
<line x1="492.00" y1="79.40" x2="494.90" y2="79.40" stroke="#262626" stroke-width="1" />
<line x1="493.30" y1="68.26" x2="494.90" y2="68.26" stroke="#262626" stroke-width="1" />
<line x1="493.30" y1="61.75" x2="494.90" y2="61.75" stroke="#262626" stroke-width="1" />
<line x1="493.30" y1="57.12" x2="494.90" y2="57.12" stroke="#262626" stroke-width="1" />
<line x1="493.30" y1="53.54" x2="494.90" y2="53.54" stroke="#262626" stroke-width="1" />
<line x1="493.30" y1="50.61" x2="494.90" y2="50.61" stroke="#262626" stroke-width="1" />
<line x1="493.30" y1="48.13" x2="494.90" y2="48.13" stroke="#262626" stroke-width="1" />
<line x1="493.30" y1="45.99" x2="494.90" y2="45.99" stroke="#262626" stroke-width="1" />
<line x1="493.30" y1="44.09" x2="494.90" y2="44.09" stroke="#262626" stroke-width="1" />
<line x1="492.00" y1="42.40" x2="494.90" y2="42.40" stroke="#262626" stroke-width="1" />
<line x1="493.30" y1="31.26" x2="494.90" y2="31.26" stroke="#262626" stroke-width="1" />
<line x1="493.30" y1="24.75" x2="494.90" y2="24.75" stroke="#262626" stroke-width="1" />
<line x1="493.30" y1="20.12" x2="494.90" y2="20.12" stroke="#262626" stroke-width="1" />
<text x="491.10" y="154.70" font-size="10.5" text-anchor="end" fill="#000" >0.01</text>
<text x="491.10" y="120.40" font-size="10.5" text-anchor="end" fill="#000" >0.1</text>
<text x="491.10" y="83.40" font-size="10.5" text-anchor="end" fill="#000" >1</text>
<text x="491.10" y="46.40" font-size="10.5" text-anchor="end" fill="#000" >10</text>
<line x1="541.58" y1="153.40" x2="541.58" y2="156.30" stroke="#262626" stroke-width="1" />
<text x="542.08" y="168.20" font-size="10.5" text-anchor="middle" fill="#000" >40</text>
<line x1="588.25" y1="153.40" x2="588.25" y2="156.30" stroke="#262626" stroke-width="1" />
<text x="588.75" y="168.20" font-size="10.5" text-anchor="middle" fill="#000" >60</text>
<line x1="634.92" y1="153.40" x2="634.92" y2="156.30" stroke="#262626" stroke-width="1" />
<text x="635.42" y="168.20" font-size="10.5" text-anchor="middle" fill="#000" >80</text>
<text x="464.20" y="11.80" font-size="17.5" text-anchor="start" fill="#000" >c</text>
<text transform="translate(468.1,86.9) rotate(-90)" font-size="10.5" text-anchor="middle">Energy dissipated (MJ/m<tspan font-size="6.6" dy="-3.6">3</tspan><tspan dy="3.6">)</tspan></text>
<text x="585.40" y="179.90" font-size="10.5" text-anchor="middle" fill="#000" >Strain (%)</text>
<rect x="510.4" y="21.7" width="19.3" height="9.0" fill="url(#gp)" stroke="#fff" stroke-width="0.7" stroke-dasharray="1,1"/>
<rect x="510.4" y="34.8" width="19.3" height="8.7" fill="url(#go)" stroke="#fff" stroke-width="0.7" stroke-dasharray="1,1"/>
<text x="535.40" y="31.50" font-size="10.5" text-anchor="start" fill="#000" >LC-semi-IPN</text>
<text x="535.40" y="43.30" font-size="10.5" text-anchor="start" fill="#000" >LCN</text>
<rect x="34.50" y="192.00" width="184.90" height="135.50" fill="none" stroke="#262626" stroke-width="1.1"/>
<line x1="80.72" y1="327.50" x2="80.72" y2="330.40" stroke="#262626" stroke-width="1" />
<text x="81.02" y="343.00" font-size="10.5" text-anchor="middle" fill="#000" >40</text>
<line x1="126.95" y1="327.50" x2="126.95" y2="330.40" stroke="#262626" stroke-width="1" />
<text x="127.25" y="343.00" font-size="10.5" text-anchor="middle" fill="#000" >60</text>
<line x1="173.18" y1="327.50" x2="173.18" y2="330.40" stroke="#262626" stroke-width="1" />
<text x="173.48" y="343.00" font-size="10.5" text-anchor="middle" fill="#000" >80</text>
<line x1="31.60" y1="327.50" x2="34.50" y2="327.50" stroke="#262626" stroke-width="1" />
<line x1="31.60" y1="304.92" x2="34.50" y2="304.92" stroke="#262626" stroke-width="1" />
<line x1="31.60" y1="282.33" x2="34.50" y2="282.33" stroke="#262626" stroke-width="1" />
<line x1="31.60" y1="259.75" x2="34.50" y2="259.75" stroke="#262626" stroke-width="1" />
<line x1="31.60" y1="237.17" x2="34.50" y2="237.17" stroke="#262626" stroke-width="1" />
<line x1="31.60" y1="214.58" x2="34.50" y2="214.58" stroke="#262626" stroke-width="1" />
<line x1="31.60" y1="192.00" x2="34.50" y2="192.00" stroke="#262626" stroke-width="1" />
<line x1="32.90" y1="316.21" x2="34.50" y2="316.21" stroke="#262626" stroke-width="1" />
<line x1="32.90" y1="293.62" x2="34.50" y2="293.62" stroke="#262626" stroke-width="1" />
<line x1="32.90" y1="271.04" x2="34.50" y2="271.04" stroke="#262626" stroke-width="1" />
<line x1="32.90" y1="248.46" x2="34.50" y2="248.46" stroke="#262626" stroke-width="1" />
<line x1="32.90" y1="225.88" x2="34.50" y2="225.88" stroke="#262626" stroke-width="1" />
<line x1="32.90" y1="203.29" x2="34.50" y2="203.29" stroke="#262626" stroke-width="1" />
<text x="31.00" y="332.00" font-size="10.5" text-anchor="end" fill="#000" >0</text>
<text x="31.00" y="309.42" font-size="10.5" text-anchor="end" fill="#000" >20</text>
<text x="31.00" y="286.83" font-size="10.5" text-anchor="end" fill="#000" >40</text>
<text x="31.00" y="264.25" font-size="10.5" text-anchor="end" fill="#000" >60</text>
<text x="31.00" y="241.67" font-size="10.5" text-anchor="end" fill="#000" >80</text>
<text x="31.00" y="219.08" font-size="10.5" text-anchor="end" fill="#000" >100</text>
<text x="31.00" y="196.50" font-size="10.5" text-anchor="end" fill="#000" >120</text>
<polyline points="80.72,241.91 126.95,233.21 173.18,227.79" fill="none" stroke="#8a80d0" stroke-width="1.1"/>
<polyline points="80.72,291.14 126.95,300.40 173.18,294.64" fill="none" stroke="#ee6a26" stroke-width="1.1"/>
<line x1="80.72" y1="236.94" x2="80.72" y2="246.88" stroke="#5a2a9a" stroke-width="0.9" />
<line x1="78.92" y1="236.94" x2="82.52" y2="236.94" stroke="#5a2a9a" stroke-width="0.9" />
<line x1="78.92" y1="246.88" x2="82.52" y2="246.88" stroke="#5a2a9a" stroke-width="0.9" />
<rect x="79.22" y="240.41" width="3" height="3" fill="#5a2a9a"/>
<line x1="126.95" y1="229.60" x2="126.95" y2="236.83" stroke="#5a2a9a" stroke-width="0.9" />
<line x1="125.15" y1="229.60" x2="128.75" y2="229.60" stroke="#5a2a9a" stroke-width="0.9" />
<line x1="125.15" y1="236.83" x2="128.75" y2="236.83" stroke="#5a2a9a" stroke-width="0.9" />
<rect x="125.45" y="231.71" width="3" height="3" fill="#5a2a9a"/>
<line x1="173.18" y1="225.31" x2="173.18" y2="230.28" stroke="#5a2a9a" stroke-width="0.9" />
<line x1="171.38" y1="225.31" x2="174.98" y2="225.31" stroke="#5a2a9a" stroke-width="0.9" />
<line x1="171.38" y1="230.28" x2="174.98" y2="230.28" stroke="#5a2a9a" stroke-width="0.9" />
<rect x="171.68" y="226.29" width="3" height="3" fill="#5a2a9a"/>
<line x1="80.72" y1="287.53" x2="80.72" y2="294.75" stroke="#c2461a" stroke-width="0.9" />
<line x1="78.92" y1="287.53" x2="82.52" y2="287.53" stroke="#c2461a" stroke-width="0.9" />
<line x1="78.92" y1="294.75" x2="82.52" y2="294.75" stroke="#c2461a" stroke-width="0.9" />
<rect x="79.22" y="289.64" width="3" height="3" fill="#c2461a"/>
<line x1="126.95" y1="299.27" x2="126.95" y2="301.53" stroke="#c2461a" stroke-width="0.9" />
<line x1="125.15" y1="299.27" x2="128.75" y2="299.27" stroke="#c2461a" stroke-width="0.9" />
<line x1="125.15" y1="301.53" x2="128.75" y2="301.53" stroke="#c2461a" stroke-width="0.9" />
<rect x="125.45" y="298.90" width="3" height="3" fill="#c2461a"/>
<line x1="173.18" y1="293.74" x2="173.18" y2="295.54" stroke="#c2461a" stroke-width="0.9" />
<line x1="171.38" y1="293.74" x2="174.98" y2="293.74" stroke="#c2461a" stroke-width="0.9" />
<line x1="171.38" y1="295.54" x2="174.98" y2="295.54" stroke="#c2461a" stroke-width="0.9" />
<rect x="171.68" y="293.14" width="3" height="3" fill="#c2461a"/>
<text x="1.30" y="183.50" font-size="17.5" text-anchor="start" fill="#000" >d</text>
<text transform="translate(11.30,258.80) rotate(-90)" font-size="10.5" text-anchor="middle">Dissipated coefficient (%)</text>
<text x="123.80" y="354.70" font-size="10.5" text-anchor="middle" fill="#000" >Strain (%)</text>
<line x1="47.00" y1="201.10" x2="69.80" y2="201.10" stroke="#a49bd6" stroke-width="1.2" />
<line x1="47.00" y1="213.40" x2="69.80" y2="213.40" stroke="#f06a2a" stroke-width="1.2" />
<text x="72.40" y="205.50" font-size="10.5" text-anchor="start" fill="#000" >LC-semi-IPN</text>
<text x="72.40" y="218.00" font-size="10.5" text-anchor="start" fill="#000" >LCN</text>
<rect x="260.60" y="192.10" width="187.90" height="137.20" fill="none" stroke="#262626" stroke-width="1.1"/>
<line x1="260.60" y1="329.30" x2="260.60" y2="332.20" stroke="#262626" stroke-width="1" />
<line x1="281.46" y1="329.30" x2="281.46" y2="330.90" stroke="#262626" stroke-width="1" />
<line x1="293.66" y1="329.30" x2="293.66" y2="330.90" stroke="#262626" stroke-width="1" />
<line x1="302.32" y1="329.30" x2="302.32" y2="330.90" stroke="#262626" stroke-width="1" />
<line x1="309.04" y1="329.30" x2="309.04" y2="330.90" stroke="#262626" stroke-width="1" />
<line x1="314.53" y1="329.30" x2="314.53" y2="330.90" stroke="#262626" stroke-width="1" />
<line x1="319.17" y1="329.30" x2="319.17" y2="330.90" stroke="#262626" stroke-width="1" />
<line x1="323.18" y1="329.30" x2="323.18" y2="330.90" stroke="#262626" stroke-width="1" />
<line x1="326.73" y1="329.30" x2="326.73" y2="330.90" stroke="#262626" stroke-width="1" />
<line x1="329.90" y1="329.30" x2="329.90" y2="332.20" stroke="#262626" stroke-width="1" />
<line x1="350.76" y1="329.30" x2="350.76" y2="330.90" stroke="#262626" stroke-width="1" />
<line x1="362.96" y1="329.30" x2="362.96" y2="330.90" stroke="#262626" stroke-width="1" />
<line x1="371.62" y1="329.30" x2="371.62" y2="330.90" stroke="#262626" stroke-width="1" />
<line x1="378.34" y1="329.30" x2="378.34" y2="330.90" stroke="#262626" stroke-width="1" />
<line x1="383.83" y1="329.30" x2="383.83" y2="330.90" stroke="#262626" stroke-width="1" />
<line x1="388.47" y1="329.30" x2="388.47" y2="330.90" stroke="#262626" stroke-width="1" />
<line x1="392.48" y1="329.30" x2="392.48" y2="330.90" stroke="#262626" stroke-width="1" />
<line x1="396.03" y1="329.30" x2="396.03" y2="330.90" stroke="#262626" stroke-width="1" />
<line x1="399.20" y1="329.30" x2="399.20" y2="332.20" stroke="#262626" stroke-width="1" />
<line x1="420.06" y1="329.30" x2="420.06" y2="330.90" stroke="#262626" stroke-width="1" />
<line x1="432.26" y1="329.30" x2="432.26" y2="330.90" stroke="#262626" stroke-width="1" />
<line x1="440.92" y1="329.30" x2="440.92" y2="330.90" stroke="#262626" stroke-width="1" />
<line x1="447.64" y1="329.30" x2="447.64" y2="330.90" stroke="#262626" stroke-width="1" />
<text x="263.50" y="342.60" font-size="10.5" text-anchor="middle" fill="#000" >0.001</text>
<text x="330.60" y="342.60" font-size="10.5" text-anchor="middle" fill="#000" >0.01</text>
<text x="399.20" y="342.60" font-size="10.5" text-anchor="middle" fill="#000" >0.1</text>
<line x1="257.70" y1="329.30" x2="260.60" y2="329.30" stroke="#262626" stroke-width="1" />
<line x1="259.00" y1="315.53" x2="260.60" y2="315.53" stroke="#262626" stroke-width="1" />
<line x1="259.00" y1="307.48" x2="260.60" y2="307.48" stroke="#262626" stroke-width="1" />
<line x1="259.00" y1="301.77" x2="260.60" y2="301.77" stroke="#262626" stroke-width="1" />
<line x1="259.00" y1="297.33" x2="260.60" y2="297.33" stroke="#262626" stroke-width="1" />
<line x1="259.00" y1="293.71" x2="260.60" y2="293.71" stroke="#262626" stroke-width="1" />
<line x1="259.00" y1="290.65" x2="260.60" y2="290.65" stroke="#262626" stroke-width="1" />
<line x1="259.00" y1="288.00" x2="260.60" y2="288.00" stroke="#262626" stroke-width="1" />
<line x1="259.00" y1="285.66" x2="260.60" y2="285.66" stroke="#262626" stroke-width="1" />
<line x1="257.70" y1="283.57" x2="260.60" y2="283.57" stroke="#262626" stroke-width="1" />
<line x1="259.00" y1="269.80" x2="260.60" y2="269.80" stroke="#262626" stroke-width="1" />
<line x1="259.00" y1="261.75" x2="260.60" y2="261.75" stroke="#262626" stroke-width="1" />
<line x1="259.00" y1="256.03" x2="260.60" y2="256.03" stroke="#262626" stroke-width="1" />
<line x1="259.00" y1="251.60" x2="260.60" y2="251.60" stroke="#262626" stroke-width="1" />
<line x1="259.00" y1="247.98" x2="260.60" y2="247.98" stroke="#262626" stroke-width="1" />
<line x1="259.00" y1="244.92" x2="260.60" y2="244.92" stroke="#262626" stroke-width="1" />
<line x1="259.00" y1="242.27" x2="260.60" y2="242.27" stroke="#262626" stroke-width="1" />
<line x1="259.00" y1="239.93" x2="260.60" y2="239.93" stroke="#262626" stroke-width="1" />
<line x1="257.70" y1="237.83" x2="260.60" y2="237.83" stroke="#262626" stroke-width="1" />
<line x1="259.00" y1="224.07" x2="260.60" y2="224.07" stroke="#262626" stroke-width="1" />
<line x1="259.00" y1="216.01" x2="260.60" y2="216.01" stroke="#262626" stroke-width="1" />
<line x1="259.00" y1="210.30" x2="260.60" y2="210.30" stroke="#262626" stroke-width="1" />
<line x1="259.00" y1="205.87" x2="260.60" y2="205.87" stroke="#262626" stroke-width="1" />
<line x1="259.00" y1="202.25" x2="260.60" y2="202.25" stroke="#262626" stroke-width="1" />
<line x1="259.00" y1="199.18" x2="260.60" y2="199.18" stroke="#262626" stroke-width="1" />
<line x1="259.00" y1="196.53" x2="260.60" y2="196.53" stroke="#262626" stroke-width="1" />
<line x1="259.00" y1="194.19" x2="260.60" y2="194.19" stroke="#262626" stroke-width="1" />
<line x1="257.70" y1="192.10" x2="260.60" y2="192.10" stroke="#262626" stroke-width="1" />
<text x="256.90" y="331.10" font-size="10.5" text-anchor="end" fill="#000" >0.01</text>
<text x="256.90" y="287.37" font-size="10.5" text-anchor="end" fill="#000" >0.1</text>
<text x="256.90" y="241.63" font-size="10.5" text-anchor="end" fill="#000" >1</text>
<text x="256.90" y="195.90" font-size="10.5" text-anchor="end" fill="#000" >10</text>
<polyline points="281.46,213.12 323.18,209.57 364.91,206.07 406.63,202.25" fill="none" stroke="#2a64b8" stroke-width="1.25" stroke-dasharray="4.3,2.9,1.2,3,1.2,2.9"/>
<polyline points="281.46,253.92 323.18,247.98 364.91,238.44 406.63,228.87" fill="none" stroke="#c41e24" stroke-width="1.25" stroke-dasharray="4.3,2.9,1.2,3,1.2,2.9"/>
<circle cx="281.46" cy="213.12" r="2.6" fill="none" stroke="#2a64b8" stroke-width="1"/>
<line x1="281.46" y1="210.42" x2="281.46" y2="215.82" stroke="#2a64b8" stroke-width="0.9" />
<line x1="279.46" y1="210.42" x2="283.46" y2="210.42" stroke="#2a64b8" stroke-width="0.9" />
<line x1="279.46" y1="215.82" x2="283.46" y2="215.82" stroke="#2a64b8" stroke-width="0.9" />
<circle cx="323.18" cy="209.57" r="2.6" fill="none" stroke="#2a64b8" stroke-width="1"/>
<line x1="323.18" y1="206.87" x2="323.18" y2="212.27" stroke="#2a64b8" stroke-width="0.9" />
<line x1="321.18" y1="206.87" x2="325.18" y2="206.87" stroke="#2a64b8" stroke-width="0.9" />
<line x1="321.18" y1="212.27" x2="325.18" y2="212.27" stroke="#2a64b8" stroke-width="0.9" />
<circle cx="364.91" cy="206.07" r="2.6" fill="none" stroke="#2a64b8" stroke-width="1"/>
<line x1="364.91" y1="203.37" x2="364.91" y2="208.77" stroke="#2a64b8" stroke-width="0.9" />
<line x1="362.91" y1="203.37" x2="366.91" y2="203.37" stroke="#2a64b8" stroke-width="0.9" />
<line x1="362.91" y1="208.77" x2="366.91" y2="208.77" stroke="#2a64b8" stroke-width="0.9" />
<circle cx="406.63" cy="202.25" r="2.6" fill="none" stroke="#2a64b8" stroke-width="1"/>
<line x1="406.63" y1="199.55" x2="406.63" y2="204.95" stroke="#2a64b8" stroke-width="0.9" />
<line x1="404.63" y1="199.55" x2="408.63" y2="199.55" stroke="#2a64b8" stroke-width="0.9" />
<line x1="404.63" y1="204.95" x2="408.63" y2="204.95" stroke="#2a64b8" stroke-width="0.9" />
<path d="M278.46,256.12 L284.46,256.12 L281.46,250.92 Z" fill="none" stroke="#c41e24" stroke-width="1"/>
<line x1="281.46" y1="251.22" x2="281.46" y2="256.62" stroke="#c41e24" stroke-width="0.9" />
<line x1="279.46" y1="251.22" x2="283.46" y2="251.22" stroke="#c41e24" stroke-width="0.9" />
<line x1="279.46" y1="256.62" x2="283.46" y2="256.62" stroke="#c41e24" stroke-width="0.9" />
<path d="M320.18,250.18 L326.18,250.18 L323.18,244.98 Z" fill="none" stroke="#c41e24" stroke-width="1"/>
<line x1="323.18" y1="245.28" x2="323.18" y2="250.68" stroke="#c41e24" stroke-width="0.9" />
<line x1="321.18" y1="245.28" x2="325.18" y2="245.28" stroke="#c41e24" stroke-width="0.9" />
<line x1="321.18" y1="250.68" x2="325.18" y2="250.68" stroke="#c41e24" stroke-width="0.9" />
<path d="M361.91,240.64 L367.91,240.64 L364.91,235.44 Z" fill="none" stroke="#c41e24" stroke-width="1"/>
<line x1="364.91" y1="235.74" x2="364.91" y2="241.14" stroke="#c41e24" stroke-width="0.9" />
<line x1="362.91" y1="235.74" x2="366.91" y2="235.74" stroke="#c41e24" stroke-width="0.9" />
<line x1="362.91" y1="241.14" x2="366.91" y2="241.14" stroke="#c41e24" stroke-width="0.9" />
<path d="M403.63,231.07 L409.63,231.07 L406.63,225.87 Z" fill="none" stroke="#c41e24" stroke-width="1"/>
<line x1="406.63" y1="226.17" x2="406.63" y2="231.57" stroke="#c41e24" stroke-width="0.9" />
<line x1="404.63" y1="226.17" x2="408.63" y2="226.17" stroke="#c41e24" stroke-width="0.9" />
<line x1="404.63" y1="231.57" x2="408.63" y2="231.57" stroke="#c41e24" stroke-width="0.9" />
<path d="M342.2,266.3 L342.2,236.9 L338.2,236.9 L344.4,221.7 L350.8,236.9 L346.5,236.9 L346.5,266.3 Z" fill="#dde8f7" stroke="#4a7fd0" stroke-width="1"/>
<text x="231.00" y="183.50" font-size="17.5" text-anchor="start" fill="#000" >e</text>
<text transform="translate(238,258.8) rotate(-90)" font-size="10.5" text-anchor="middle">Energy dissipated (MJ/m<tspan font-size="6.6" dy="-3.6">3</tspan><tspan dy="3.6">)</tspan></text>
<text x="352.7" y="353.6" font-size="10.5" text-anchor="middle">Strain rate (s<tspan font-size="6.6" dy="-3.6">-1</tspan><tspan dy="3.6">)</tspan></text>
<circle cx="278.0" cy="290.4" r="3.8" fill="none" stroke="#1f6fc0" stroke-width="1.2"/>
<line x1="284.20" y1="290.40" x2="307.40" y2="290.40" stroke="#5b9bd5" stroke-width="1.1" />
<path d="M273.4,317.0 L281.6,317.0 L277.5,310.0 Z" fill="none" stroke="#c8282e" stroke-width="1.2" stroke-linejoin="miter"/>
<line x1="283.90" y1="313.50" x2="306.80" y2="313.50" stroke="#d0353a" stroke-width="1.1" />
<text x="310.40" y="292.80" font-size="10.5" text-anchor="start" fill="#000" >LC-semi-IPN</text>
<text x="310.40" y="316.20" font-size="10.5" text-anchor="start" fill="#000" >LCN</text>
<text x="388.80" y="273.80" font-size="10.0" text-anchor="start" fill="#000" >Exp. Fitting:</text>
<text x="393.60" y="286.00" font-size="10.0" text-anchor="start" fill="#000" >n = 0.135</text>
<text x="393.60" y="298.20" font-size="10.0" text-anchor="start" fill="#000" >R<tspan font-size="6.6" dy="-3.6">2</tspan><tspan dy="3.6"> = 0.996</tspan></text>
<text x="393.60" y="310.40" font-size="10.0" text-anchor="start" fill="#000" >n = 0.318</text>
<text x="393.60" y="322.60" font-size="10.0" text-anchor="start" fill="#000" >R<tspan font-size="6.6" dy="-3.6">2</tspan><tspan dy="3.6"> = 0.992</tspan></text>
<rect x="496.50" y="192.10" width="187.30" height="137.80" fill="none" stroke="#262626" stroke-width="1.1"/>
<line x1="496.50" y1="329.90" x2="496.50" y2="332.80" stroke="#262626" stroke-width="1" />
<line x1="517.39" y1="329.90" x2="517.39" y2="331.50" stroke="#262626" stroke-width="1" />
<line x1="529.61" y1="329.90" x2="529.61" y2="331.50" stroke="#262626" stroke-width="1" />
<line x1="538.28" y1="329.90" x2="538.28" y2="331.50" stroke="#262626" stroke-width="1" />
<line x1="545.01" y1="329.90" x2="545.01" y2="331.50" stroke="#262626" stroke-width="1" />
<line x1="550.50" y1="329.90" x2="550.50" y2="331.50" stroke="#262626" stroke-width="1" />
<line x1="555.15" y1="329.90" x2="555.15" y2="331.50" stroke="#262626" stroke-width="1" />
<line x1="559.17" y1="329.90" x2="559.17" y2="331.50" stroke="#262626" stroke-width="1" />
<line x1="562.72" y1="329.90" x2="562.72" y2="331.50" stroke="#262626" stroke-width="1" />
<line x1="565.90" y1="329.90" x2="565.90" y2="332.80" stroke="#262626" stroke-width="1" />
<line x1="586.79" y1="329.90" x2="586.79" y2="331.50" stroke="#262626" stroke-width="1" />
<line x1="599.01" y1="329.90" x2="599.01" y2="331.50" stroke="#262626" stroke-width="1" />
<line x1="607.68" y1="329.90" x2="607.68" y2="331.50" stroke="#262626" stroke-width="1" />
<line x1="614.41" y1="329.90" x2="614.41" y2="331.50" stroke="#262626" stroke-width="1" />
<line x1="619.90" y1="329.90" x2="619.90" y2="331.50" stroke="#262626" stroke-width="1" />
<line x1="624.55" y1="329.90" x2="624.55" y2="331.50" stroke="#262626" stroke-width="1" />
<line x1="628.57" y1="329.90" x2="628.57" y2="331.50" stroke="#262626" stroke-width="1" />
<line x1="632.12" y1="329.90" x2="632.12" y2="331.50" stroke="#262626" stroke-width="1" />
<line x1="635.30" y1="329.90" x2="635.30" y2="332.80" stroke="#262626" stroke-width="1" />
<line x1="656.19" y1="329.90" x2="656.19" y2="331.50" stroke="#262626" stroke-width="1" />
<line x1="668.41" y1="329.90" x2="668.41" y2="331.50" stroke="#262626" stroke-width="1" />
<line x1="677.08" y1="329.90" x2="677.08" y2="331.50" stroke="#262626" stroke-width="1" />
<text x="497.60" y="342.60" font-size="10.5" text-anchor="middle" fill="#000" >0.001</text>
<text x="566.00" y="342.60" font-size="10.5" text-anchor="middle" fill="#000" >0.01</text>
<text x="634.40" y="342.60" font-size="10.5" text-anchor="middle" fill="#000" >0.1</text>
<line x1="493.60" y1="329.90" x2="496.50" y2="329.90" stroke="#262626" stroke-width="1" />
<line x1="494.90" y1="316.07" x2="496.50" y2="316.07" stroke="#262626" stroke-width="1" />
<line x1="494.90" y1="307.98" x2="496.50" y2="307.98" stroke="#262626" stroke-width="1" />
<line x1="494.90" y1="302.25" x2="496.50" y2="302.25" stroke="#262626" stroke-width="1" />
<line x1="494.90" y1="297.79" x2="496.50" y2="297.79" stroke="#262626" stroke-width="1" />
<line x1="494.90" y1="294.16" x2="496.50" y2="294.16" stroke="#262626" stroke-width="1" />
<line x1="494.90" y1="291.08" x2="496.50" y2="291.08" stroke="#262626" stroke-width="1" />
<line x1="494.90" y1="288.42" x2="496.50" y2="288.42" stroke="#262626" stroke-width="1" />
<line x1="494.90" y1="286.07" x2="496.50" y2="286.07" stroke="#262626" stroke-width="1" />
<line x1="493.60" y1="283.97" x2="496.50" y2="283.97" stroke="#262626" stroke-width="1" />
<line x1="494.90" y1="270.14" x2="496.50" y2="270.14" stroke="#262626" stroke-width="1" />
<line x1="494.90" y1="262.05" x2="496.50" y2="262.05" stroke="#262626" stroke-width="1" />
<line x1="494.90" y1="256.31" x2="496.50" y2="256.31" stroke="#262626" stroke-width="1" />
<line x1="494.90" y1="251.86" x2="496.50" y2="251.86" stroke="#262626" stroke-width="1" />
<line x1="494.90" y1="248.22" x2="496.50" y2="248.22" stroke="#262626" stroke-width="1" />
<line x1="494.90" y1="245.15" x2="496.50" y2="245.15" stroke="#262626" stroke-width="1" />
<line x1="494.90" y1="242.48" x2="496.50" y2="242.48" stroke="#262626" stroke-width="1" />
<line x1="494.90" y1="240.14" x2="496.50" y2="240.14" stroke="#262626" stroke-width="1" />
<line x1="493.60" y1="238.03" x2="496.50" y2="238.03" stroke="#262626" stroke-width="1" />
<line x1="494.90" y1="224.21" x2="496.50" y2="224.21" stroke="#262626" stroke-width="1" />
<line x1="494.90" y1="216.12" x2="496.50" y2="216.12" stroke="#262626" stroke-width="1" />
<line x1="494.90" y1="210.38" x2="496.50" y2="210.38" stroke="#262626" stroke-width="1" />
<line x1="494.90" y1="205.93" x2="496.50" y2="205.93" stroke="#262626" stroke-width="1" />
<line x1="494.90" y1="202.29" x2="496.50" y2="202.29" stroke="#262626" stroke-width="1" />
<line x1="494.90" y1="199.22" x2="496.50" y2="199.22" stroke="#262626" stroke-width="1" />
<line x1="494.90" y1="196.55" x2="496.50" y2="196.55" stroke="#262626" stroke-width="1" />
<line x1="494.90" y1="194.20" x2="496.50" y2="194.20" stroke="#262626" stroke-width="1" />
<line x1="493.60" y1="192.10" x2="496.50" y2="192.10" stroke="#262626" stroke-width="1" />
<text x="491.20" y="332.30" font-size="10.5" text-anchor="end" fill="#000" >0.1</text>
<text x="491.20" y="287.87" font-size="10.5" text-anchor="end" fill="#000" >1</text>
<text x="491.20" y="241.93" font-size="10.5" text-anchor="end" fill="#000" >10</text>
<text x="491.20" y="196.00" font-size="10.5" text-anchor="end" fill="#000" >100</text>
<polyline points="517.39,240.58 559.17,235.60 600.96,229.29 642.74,224.71" fill="none" stroke="#5a3cb0" stroke-width="1.2" stroke-dasharray="5.9,2.3,1,3.2"/>
<polyline points="517.39,296.82 559.17,286.52 600.96,279.20 642.74,269.65" fill="none" stroke="#fb8a1c" stroke-width="1.25" stroke-dasharray="5.3,2.2,1,2.6"/>
<circle cx="517.39" cy="240.58" r="2.4" fill="none" stroke="#5a3cb0" stroke-width="0.9"/>
<line x1="517.39" y1="237.78" x2="517.39" y2="243.38" stroke="#5a3cb0" stroke-width="0.9" />
<line x1="515.39" y1="237.78" x2="519.39" y2="237.78" stroke="#5a3cb0" stroke-width="0.9" />
<line x1="515.39" y1="243.38" x2="519.39" y2="243.38" stroke="#5a3cb0" stroke-width="0.9" />
<circle cx="559.17" cy="235.60" r="2.4" fill="none" stroke="#5a3cb0" stroke-width="0.9"/>
<line x1="559.17" y1="232.80" x2="559.17" y2="238.40" stroke="#5a3cb0" stroke-width="0.9" />
<line x1="557.17" y1="232.80" x2="561.17" y2="232.80" stroke="#5a3cb0" stroke-width="0.9" />
<line x1="557.17" y1="238.40" x2="561.17" y2="238.40" stroke="#5a3cb0" stroke-width="0.9" />
<circle cx="600.96" cy="229.29" r="2.4" fill="none" stroke="#5a3cb0" stroke-width="0.9"/>
<line x1="600.96" y1="226.49" x2="600.96" y2="232.09" stroke="#5a3cb0" stroke-width="0.9" />
<line x1="598.96" y1="226.49" x2="602.96" y2="226.49" stroke="#5a3cb0" stroke-width="0.9" />
<line x1="598.96" y1="232.09" x2="602.96" y2="232.09" stroke="#5a3cb0" stroke-width="0.9" />
<circle cx="642.74" cy="224.71" r="2.4" fill="none" stroke="#5a3cb0" stroke-width="0.9"/>
<line x1="642.74" y1="221.91" x2="642.74" y2="227.51" stroke="#5a3cb0" stroke-width="0.9" />
<line x1="640.74" y1="221.91" x2="644.74" y2="221.91" stroke="#5a3cb0" stroke-width="0.9" />
<line x1="640.74" y1="227.51" x2="644.74" y2="227.51" stroke="#5a3cb0" stroke-width="0.9" />
<path d="M514.39,294.82 L520.39,294.82 L517.39,299.82 Z" fill="none" stroke="#fb8a1c" stroke-width="1"/>
<line x1="517.39" y1="294.02" x2="517.39" y2="299.62" stroke="#fb8a1c" stroke-width="0.9" />
<line x1="515.39" y1="294.02" x2="519.39" y2="294.02" stroke="#fb8a1c" stroke-width="0.9" />
<line x1="515.39" y1="299.62" x2="519.39" y2="299.62" stroke="#fb8a1c" stroke-width="0.9" />
<path d="M556.17,284.52 L562.17,284.52 L559.17,289.52 Z" fill="none" stroke="#fb8a1c" stroke-width="1"/>
<line x1="559.17" y1="283.72" x2="559.17" y2="289.32" stroke="#fb8a1c" stroke-width="0.9" />
<line x1="557.17" y1="283.72" x2="561.17" y2="283.72" stroke="#fb8a1c" stroke-width="0.9" />
<line x1="557.17" y1="289.32" x2="561.17" y2="289.32" stroke="#fb8a1c" stroke-width="0.9" />
<path d="M597.96,277.20 L603.96,277.20 L600.96,282.20 Z" fill="none" stroke="#fb8a1c" stroke-width="1"/>
<line x1="600.96" y1="276.40" x2="600.96" y2="282.00" stroke="#fb8a1c" stroke-width="0.9" />
<line x1="598.96" y1="276.40" x2="602.96" y2="276.40" stroke="#fb8a1c" stroke-width="0.9" />
<line x1="598.96" y1="282.00" x2="602.96" y2="282.00" stroke="#fb8a1c" stroke-width="0.9" />
<path d="M639.74,267.65 L645.74,267.65 L642.74,272.65 Z" fill="none" stroke="#fb8a1c" stroke-width="1"/>
<line x1="642.74" y1="266.85" x2="642.74" y2="272.45" stroke="#fb8a1c" stroke-width="0.9" />
<line x1="640.74" y1="266.85" x2="644.74" y2="266.85" stroke="#fb8a1c" stroke-width="0.9" />
<line x1="640.74" y1="272.45" x2="644.74" y2="272.45" stroke="#fb8a1c" stroke-width="0.9" />
<path d="M583.6,279.4 L583.6,250.4 L579.7,250.4 L585.6,235.1 L591.8,250.4 L588.2,250.4 L588.2,279.4 Z" fill="#e8e4f4" stroke="#5040a0" stroke-width="1"/>
<text x="466.30" y="183.50" font-size="17.5" text-anchor="start" fill="#000" >f</text>
<text transform="translate(471.6,261) rotate(-90)" font-size="10.5" text-anchor="middle">Young's modulus (MPa)</text>
<text x="587.0" y="353.6" font-size="10.5" text-anchor="middle">Strain rate (s<tspan font-size="6.6" dy="-3.6">-1</tspan><tspan dy="3.6">)</tspan></text>
<polygon points="513.30,210.90 516.76,212.90 516.76,216.90 513.30,218.90 509.84,216.90 509.84,212.90" fill="none" stroke="#5a3cb0" stroke-width="1.2"/>
<line x1="523.40" y1="214.70" x2="545.40" y2="214.70" stroke="#9d8fd8" stroke-width="1.1" />
<path d="M510.0,268.0 L518.2,268.0 L514.1,275.0 Z" fill="none" stroke="#f28a1c" stroke-width="1.3"/>
<line x1="522.90" y1="271.80" x2="545.10" y2="271.80" stroke="#f9ad6a" stroke-width="1.1" />
<text x="548.30" y="218.80" font-size="10.5" text-anchor="start" fill="#000" >LC-semi-IPN</text>
<text x="547.40" y="275.30" font-size="10.5" text-anchor="start" fill="#000" >LCN</text>
<text x="617.40" y="238.40" font-size="10.0" text-anchor="start" fill="#000" >Exp. Fitting:</text>
<text x="622.40" y="250.40" font-size="10.0" text-anchor="start" fill="#000" >n = 0.191</text>
<text x="622.40" y="262.40" font-size="10.0" text-anchor="start" fill="#000" >R<tspan font-size="6.6" dy="-3.6">2</tspan><tspan dy="3.6"> = 0.993</tspan></text>
<text x="622.40" y="291.20" font-size="10.0" text-anchor="start" fill="#000" >n = 0.318</text>
<text x="622.40" y="303.20" font-size="10.0" text-anchor="start" fill="#000" >R<tspan font-size="6.6" dy="-3.6">2</tspan><tspan dy="3.6"> = 0.997</tspan></text>
</svg></body></html>
